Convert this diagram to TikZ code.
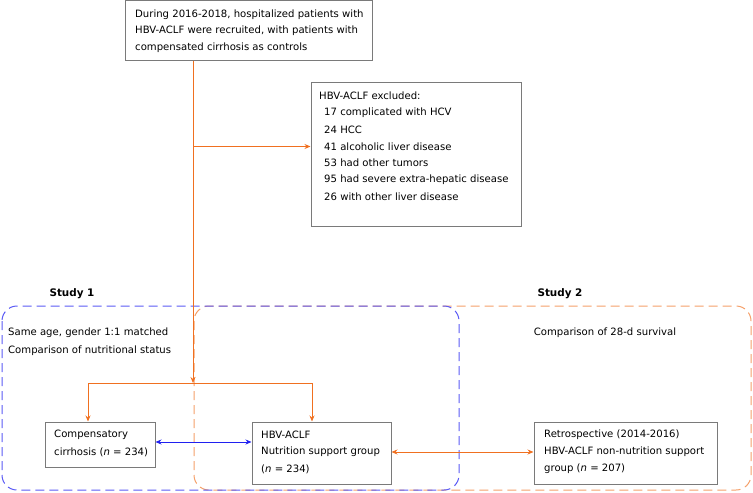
\documentclass[tikz,border=0pt]{standalone}
\usepackage{fontspec}
\setmainfont{DejaVu Sans}
\usetikzlibrary{arrows.meta}
\definecolor{ora}{HTML}{F07020}
\definecolor{lora}{HTML}{F5A06A}
\definecolor{blu}{HTML}{2020F0}
\definecolor{lblu}{HTML}{5A5AF5}
\definecolor{gbox}{HTML}{7A7A7A}
\begin{document}
\begin{tikzpicture}[x=1pt,y=-1pt,
  txt/.style={font=\fontsize{10.1}{17}\selectfont, inner sep=0pt, anchor=west},
  boxst/.style={draw=gbox, line width=1pt},
  oarrow/.style={draw=ora, line width=0.8pt, -{Stealth[length=6pt,width=5pt]}},
  oline/.style={draw=ora, line width=0.8pt},
  barrow/.style={draw=blu, line width=0.8pt, {Stealth[length=6pt,width=5pt]}-{Stealth[length=6pt,width=5pt]}},
  odarrow/.style={draw=ora, line width=0.8pt, {Stealth[length=6pt,width=5pt]}-{Stealth[length=6pt,width=5pt]}},
  bdash/.style={draw=lblu, line width=1pt, dash pattern=on 9pt off 5pt, rounded corners=15pt},
  odash/.style={draw=lora, line width=1pt, dash pattern=on 9pt off 5pt, rounded corners=15pt}]
\useasboundingbox (0,0) rectangle (753,493);
% dashed study frames
\draw[odash] (194,306) rectangle (751,490);
\draw[bdash] (2,306) rectangle (459,490);
\node[font=\fontsize{10.4}{12}\selectfont\bfseries] (s1) at (72,294) {Study 1};
\node[font=\fontsize{10.4}{12}\selectfont\bfseries] (s2) at (560,294) {Study 2};
% top box
\node[boxst, minimum width=247pt, minimum height=59.5pt, inner sep=0pt] (top) at (248.5,30.25) {};
\node[txt] (t1) at (135,15) {During 2016-2018, hospitalized patients with};
\node[txt] (t2) at (135,31) {HBV-ACLF were recruited, with patients with};
\node[txt] (t3) at (135,48) {compensated cirrhosis as controls};
% excluded box
\node[boxst, minimum width=210pt, minimum height=144pt, inner sep=0pt] (ex) at (416,154) {};
\node[txt] (e0) at (319,96) {HBV-ACLF excluded:};
\node[txt] (e1) at (324,113) {17 complicated with HCV};
\node[txt] (e2) at (324,130) {24 HCC};
\node[txt] (e3) at (324,146.5) {41 alcoholic liver disease};
\node[txt] (e4) at (324,163) {53 had other tumors};
\node[txt] (e5) at (324,180) {95 had severe extra-hepatic disease};
\node[txt] (e6) at (324,197) {26 with other liver disease};
% study texts
\node[txt] (st1) at (8,333) {Same age, gender 1:1 matched};
\node[txt] (st2) at (8,351) {Comparison of nutritional status};
\node[font=\fontsize{10.1}{12}\selectfont, inner sep=0pt] (st3) at (605,333) {Comparison of 28-d survival};
% bottom boxes
\node[boxst, minimum width=110pt, minimum height=45pt, inner sep=0pt] (cc) at (100,444.5) {};
\node[txt] (c1) at (54,435) {Compensatory};
\node[txt] (c2) at (54,452) {cirrhosis (\textit{n} = 234)};
\node[boxst, minimum width=139pt, minimum height=62pt, inner sep=0pt] (hb) at (321.5,453) {};
\node[txt] (h1) at (261,435) {HBV-ACLF};
\node[txt] (h2) at (261,452) {Nutrition support group};
\node[txt] (h3) at (261,469) {(\textit{n} = 234)};
\node[boxst, minimum width=183pt, minimum height=62pt, inner sep=0pt] (rt) at (625.5,453) {};
\node[txt] (r1) at (544,435) {Retrospective (2014-2016)};
\node[txt] (r2) at (544,452) {HBV-ACLF non-nutrition support};
\node[txt] (r3) at (544,469) {group (\textit{n} = 207)};
% connectors
\coordinate (split) at (193,383);
\coordinate (exin) at (193,146.5);
\draw[oarrow] (top.south -| split) -- (split);
\draw[oarrow] (exin) -- (exin -| ex.west);
\coordinate (sl) at (88,383);
\coordinate (sr) at (312,383);
\draw[oline] (sl) -- (sr);
\draw[oarrow] (sl) -- (sl |- cc.north);
\draw[oarrow] (sr) -- (sr |- hb.north);
\draw[barrow] (cc.east |- 0,442) -- (hb.west |- 0,442);
\draw[odarrow] (hb.east |- 0,452) -- (rt.west |- 0,452);
\end{tikzpicture}
\end{document}
